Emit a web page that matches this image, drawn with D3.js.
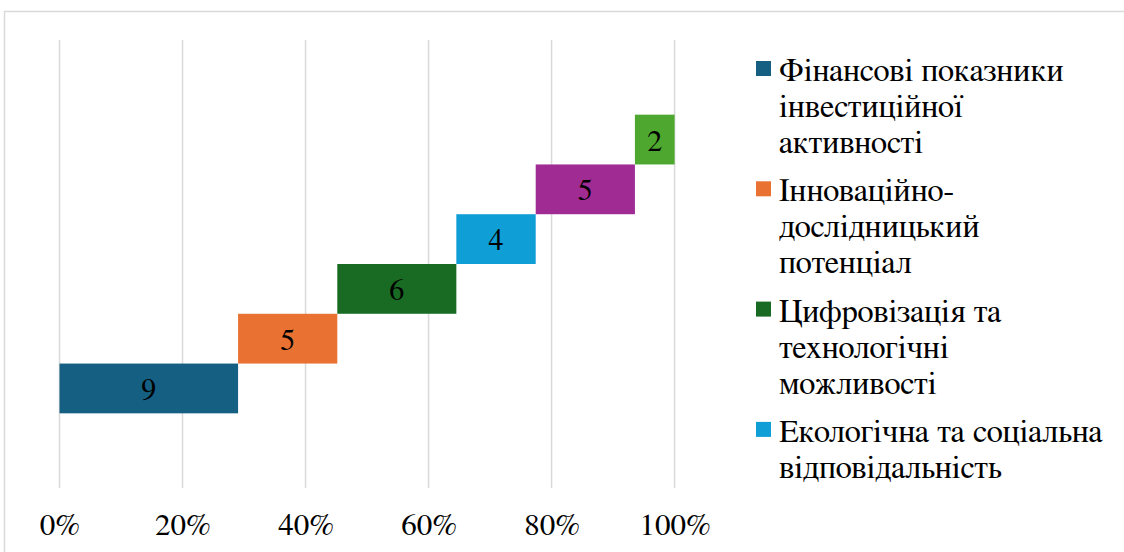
<!DOCTYPE html>
<html>
<head>
<meta charset="utf-8">
<script src="https://cdn.jsdelivr.net/npm/d3@7"></script>
</head>
<body style="margin:0">
<script>
// series in stacking order, one per row
var values = [9, 5, 6, 4, 5, 2];
var colors = ["#156082", "#E97132", "#196B24", "#0F9ED5", "#A02B93", "#4EA72E"];
// only the first four legend entries are visible in the picture
var legendNames = [
    ["Фінансові показники", "інвестиційної", "активності"],
    ["Інноваційно-", "дослідницький", "потенціал"],
    ["Цифровізація та", "технологічні", "можливості"],
    ["Екологічна та соціальна", "відповідальність"]
];
var xTicks = [0, 0.2, 0.4, 0.6, 0.8, 1];

var width = 1124, height = 552;
var plot = { left: 59.5, right: 674.6, top: 40, bottom: 488 };
var serif = "'FreeSerif'";

var svg = d3.select("body").append("svg")
    .attr("width", width)
    .attr("height", height);

// chart frame
svg.append("rect")
    .attr("x", 4.5).attr("y", 11.5)
    .attr("width", 1200).attr("height", 700)
    .attr("fill", "none")
    .attr("stroke", "#d9d9d9")
    .attr("stroke-width", 1.5);

var total = d3.sum(values);
var rows = values.map(function(d, i) { return i; });

var x = d3.scaleLinear().domain([0, 1]).range([plot.left, plot.right]);
var y = d3.scaleBand().domain(rows)
    .range([plot.bottom, plot.top])
    .paddingInner(0).paddingOuter(1.5);

// gridlines
svg.append("g").selectAll("line")
    .data(xTicks)
    .enter().append("line")
    .attr("x1", function(d) { return x(d); })
    .attr("x2", function(d) { return x(d); })
    .attr("y1", plot.top).attr("y2", plot.bottom)
    .attr("stroke", "#d9d9d9")
    .attr("stroke-width", 1.5);

// cumulative start of every segment
var starts = [];
values.reduce(function(acc, v) { starts.push(acc); return acc + v; }, 0);

var bars = svg.append("g").selectAll("g")
    .data(values)
    .enter().append("g");

bars.append("rect")
    .attr("x", function(d, i) { return x(starts[i] / total); })
    .attr("y", function(d, i) { return y(i); })
    .attr("width", function(d) { return x(d / total) - x(0); })
    .attr("height", y.bandwidth())
    .attr("fill", function(d, i) { return colors[i]; });

bars.append("text")
    .attr("x", function(d, i) { return x((starts[i] + d / 2) / total); })
    .attr("y", function(d, i) { return y(i) + y.bandwidth() / 2 + 11; })
    .attr("text-anchor", "middle")
    .style("font-family", serif)
    .style("font-size", "30px")
    .style("fill", "#000")
    .text(function(d) { return d; });

// x axis labels
var xAxis = d3.axisBottom(x)
    .tickValues(xTicks)
    .tickFormat(d3.format(".0%"))
    .tickSize(0)
    .tickPadding(0);

var axisG = svg.append("g")
    .attr("transform", "translate(0," + 535 + ")")
    .call(xAxis);
axisG.select(".domain").remove();
axisG.attr("font-family", null);
axisG.selectAll("text")
    .attr("dy", 0)
    .attr("y", 0)
    .attr("fill", "#000")
    .style("font-family", serif)
    .style("font-size", "31px");

// legend
var legend = svg.append("g").selectAll("g")
    .data(legendNames)
    .enter().append("g")
    .attr("transform", function(d, i) { return "translate(756," + (61 + i * 120.3) + ")"; });

legend.append("rect")
    .attr("width", 15).attr("height", 15)
    .attr("fill", function(d, i) { return colors[i]; });

legend.append("text")
    .attr("x", 23)
    .attr("y", 20)
    .style("font-family", serif)
    .style("font-size", "32.5px")
    .style("fill", "#000")
    .selectAll("tspan")
    .data(function(d) { return d; })
    .enter().append("tspan")
    .attr("x", 23)
    .attr("dy", function(d, i) { return i === 0 ? 0 : 36; })
    .text(function(d) { return d; });
</script>
</body>
</html>
